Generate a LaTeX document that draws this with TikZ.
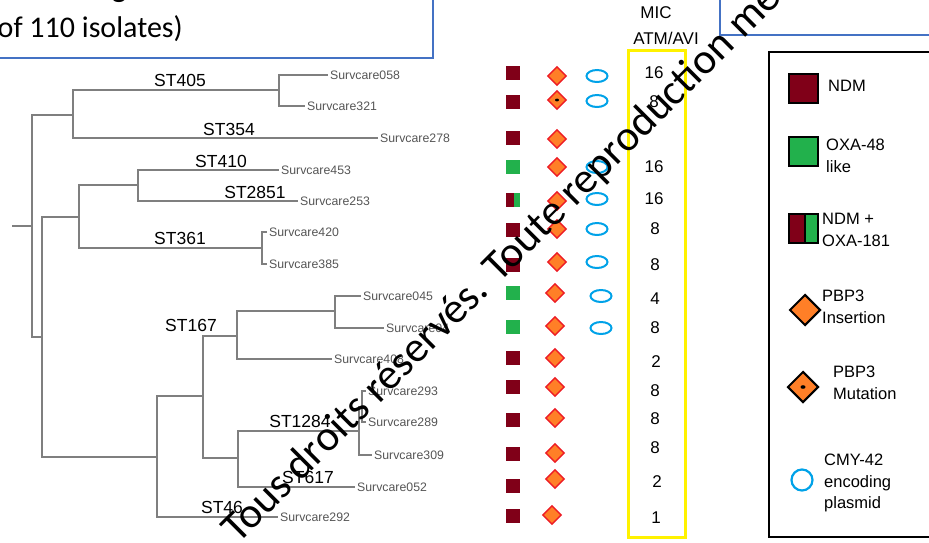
\documentclass[tikz,border=0pt]{standalone}
\usepackage{fontspec}
\setmainfont{Liberation Sans}
\newfontfamily\calibri{Carlito}
\usetikzlibrary{positioning, shapes.geometric, calc}

\definecolor{ndmred}{HTML}{800018}
\definecolor{oxagreen}{HTML}{22B14C}
\definecolor{pbporange}{HTML}{FF7F27}
\definecolor{pbpred}{HTML}{ED1C24}
\definecolor{cmyblue}{HTML}{00A2E8}
\definecolor{frameblue}{HTML}{4472C4}
\definecolor{micyellow}{HTML}{FFF200}
\definecolor{branchgray}{HTML}{7F7F7F}
\definecolor{leafgray}{HTML}{555555}

\begin{document}
\begin{tikzpicture}[
    x=1pt, y=-1pt,
    branch/.style={draw=branchgray, line width=1.3pt},
    leaf/.style={anchor=west, inner xsep=2pt, inner ysep=0pt, text=leafgray,
        font=\fontsize{12.3}{14}\selectfont},
    stlabel/.style={inner sep=0pt, font=\fontsize{17.5}{20}\selectfont},
    ndm/.style={rectangle, fill=ndmred, minimum size=14pt, inner sep=0pt},
    oxa/.style={ndm, fill=oxagreen},
    ndmoxa/.style={ndm, path picture={\fill[oxagreen] ([xshift=1pt]path picture bounding box.north)
        rectangle (path picture bounding box.south east);}},
    ins/.style={diamond, fill=pbporange, draw=pbpred, line width=1.4pt,
        minimum size=19pt, inner sep=0pt},
    mut/.style={ins, path picture={\fill[black] (path picture bounding box.center) ellipse (2pt and 1.4pt);}},
    cmy/.style={ellipse, draw=cmyblue, line width=2pt, minimum width=21pt,
        minimum height=12pt, inner sep=0pt},
    mic/.style={inner sep=0pt, font=\fontsize{17}{20}\selectfont},
    keybox/.style={rectangle, fill=#1, draw=black, line width=2pt,
        minimum width=29pt, minimum height=29pt, inner sep=0pt},
    keydia/.style={diamond, fill=pbporange, draw=black, line width=2pt,
        minimum size=31pt, inner sep=0pt},
    keytext/.style={anchor=west, align=left, inner sep=0pt,
        font=\fontsize{16.5}{21.5}\selectfont},
]
\useasboundingbox (0,0) rectangle (929,542);
\clip (0,0) rectangle (929,542);

% ---- Title boxes (cut by the frame) ----
\draw[frameblue, line width=1.5pt] (-20,-20) rectangle (433,58);
\node[anchor=base east, inner sep=0pt, font=\calibri\bfseries\fontsize{30}{36}\selectfont]
    (title) at (150,-3) {human origin};
\node[anchor=base east, inner sep=0pt, font=\calibri\fontsize{30}{36}\selectfont]
    (subtitle) at (183,37) {(of 110 isolates)};
\draw[frameblue, line width=1.5pt] (720,-20) rectangle (950,35);

% ---- Tree: internal nodes ----
\coordinate (root) at (12,226);
\coordinate (n1) at (32,226);
\coordinate (nA) at (73,115);
\coordinate (n405) at (279,90);
\coordinate (nB) at (42,337);
\coordinate (nC) at (79,217);
\coordinate (n410) at (138,185);
\coordinate (n361) at (262,248);
\coordinate (nD) at (157,457);
\coordinate (n167) at (203,396);
\coordinate (nE) at (237,336);
\coordinate (nG) at (335,311);
\coordinate (nF) at (238,458);
\coordinate (n1284) at (359,431);
\coordinate (nH) at (362,407);

% ---- Tree: isolates ----
\node[leaf] (s058) at (328,75) {Survcare058};
\node[leaf] (s321) at (305,106) {Survcare321};
\node[leaf] (s278) at (378,138) {Survcare278};
\node[leaf] (s453) at (279,170) {Survcare453};
\node[leaf] (s253) at (298,201) {Survcare253};
\node[leaf] (s420) at (267,232) {Survcare420};
\node[leaf] (s385) at (267,264) {Survcare385};
\node[leaf] (s045) at (361,296) {Survcare045};
\node[leaf] (s04x) at (384,328) {Survcare04};
\node[leaf] (s408) at (332,359) {Survcare408};
\node[leaf] (s293) at (366,391) {Survcare293};
\node[leaf] (s289) at (366,422) {Survcare289};
\node[leaf] (s309) at (372,455) {Survcare309};
\node[leaf] (s052) at (355,487) {Survcare052};
\node[leaf] (s292) at (278,517) {Survcare292};

% ---- Tree: branches ----
\draw[branch] (root) -- (n1);
\draw[branch] (n1) |- (nA);
\draw[branch] (n1) |- (nB);
\draw[branch] (nA) |- (n405);
\draw[branch] (nA) |- (s278.west);
\draw[branch] (n405) |- (s058.west);
\draw[branch] (n405) |- (s321.west);
\draw[branch] (nB) |- (nC);
\draw[branch] (nB) |- (nD);
\draw[branch] (nC) |- (n410);
\draw[branch] (nC) |- (n361);
\draw[branch] (n410) |- (s453.west);
\draw[branch] (n410) |- (s253.west);
\draw[branch] (n361) |- (s420.west);
\draw[branch] (n361) |- (s385.west);
\draw[branch] (nD) |- (n167);
\draw[branch] (nD) |- (s292.west);
\draw[branch] (n167) |- (nE);
\draw[branch] (n167) |- (nF);
\draw[branch] (nE) |- (nG);
\draw[branch] (nE) |- (s408.west);
\draw[branch] (nG) |- (s045.west);
\draw[branch] (nG) |- (s04x.west);
\draw[branch] (nF) |- (n1284);
\draw[branch] (nF) |- (s052.west);
\draw[branch] (n1284) |- (nH);
\draw[branch] (n1284) |- (s309.west);
\draw[branch] (nH) |- (s293.west);
\draw[branch] (nH) |- (s289.west);

% ---- Sequence types ----
\node[stlabel] (st405) at (180,80) {ST405};
\node[stlabel] (st354) at (229,129) {ST354};
\node[stlabel] (st410) at (221,161) {ST410};
\node[stlabel] (st2851) at (255,192) {ST2851};
\node[stlabel] (st361) at (180,238) {ST361};
\node[stlabel] (st167) at (191,325) {ST167};
\node[stlabel] (st1284) at (300,421) {ST1284};
\node[stlabel] (st617) at (308,477) {ST617};
\node[stlabel] (st46) at (222,507) {ST46};

% ---- Carbapenemase column ----
\node[ndm] (c1) at (513,73) {};
\node[ndm] (c2) at (513,102) {};
\node[ndm] (c3) at (513,138) {};
\node[oxa] (c4) at (513,167) {};
\node[ndmoxa] (c5) at (513,200) {};
\node[ndm] (c6) at (513,230) {};
\node[ndm] (c7) at (513,265) {};
\node[oxa] (c8) at (513,293) {};
\node[oxa] (c9) at (513,327) {};
\node[ndm] (c10) at (513,358) {};
\node[ndm] (c11) at (513,387) {};
\node[ndm] (c12) at (513,420) {};
\node[ndm] (c13) at (513,454) {};
\node[ndm] (c14) at (513,486) {};
\node[ndm] (c15) at (513,516) {};

% ---- PBP3 column ----
\node[ins] (p1) at (557,76) {};
\node[mut] (p2) at (557,100) {};
\node[ins] (p3) at (557,139) {};
\node[ins] (p4) at (557,167) {};
\node[ins] (p5) at (557,201) {};
\node[ins] (p6) at (557,229) {};
\node[ins] (p7) at (557,262) {};
\node[ins] (p8) at (555,293) {};
\node[ins] (p9) at (555,326) {};
\node[ins] (p10) at (555,358) {};
\node[ins] (p11) at (555,387) {};
\node[ins] (p12) at (555,418) {};
\node[ins] (p13) at (555,453) {};
\node[ins] (p14) at (555,479) {};
\node[ins] (p15) at (552,515) {};

% ---- CMY-42 column ----
\node[cmy] (e1) at (597,76) {};
\node[cmy] (e2) at (597,101) {};
\node[cmy] (e4) at (597,167) {};
\node[cmy] (e5) at (597,199) {};
\node[cmy] (e6) at (597,229) {};
\node[cmy] (e7) at (597,262) {};
\node[cmy] (e8) at (601,296) {};
\node[cmy] (e9) at (601,328) {};

% ---- MIC column ----
\node[mic] (mich1) at (656,13) {MIC};
\node[mic] (mich2) at (666,38) {ATM/AVI};
\draw[micyellow, line width=3pt] (628,50) rectangle (685,537);
\node[mic] (m1) at (654,73) {16};
\node[mic] (m2) at (654,102) {8};
\node[mic] (m4) at (654,167) {16};
\node[mic] (m5) at (654,199) {16};
\node[mic] (m6) at (655,229) {8};
\node[mic] (m7) at (655,265) {8};
\node[mic] (m8) at (655,299) {4};
\node[mic] (m9) at (655,328) {8};
\node[mic] (m10) at (656,362) {2};
\node[mic] (m11) at (655,391) {8};
\node[mic] (m12) at (655,419) {8};
\node[mic] (m13) at (655,448) {8};
\node[mic] (m14) at (657,482) {2};
\node[mic] (m15) at (656,518) {1};

% ---- Legend ----
\draw[black, line width=2pt] (769,52) rectangle (950,537);
\node[keybox=ndmred] (kndm) at (803,88) {};
\node[keytext] (tndm) at (828,86) {NDM};
\node[keybox=oxagreen] (koxa) at (803,151) {};
\node[keytext] (toxa) at (826,156) {OXA-48\\like};
\node[keybox=ndmred, path picture={
    \fill[oxagreen] ([xshift=2pt]path picture bounding box.north) rectangle (path picture bounding box.south east);
    \draw[line width=1.5pt] ([xshift=2pt]path picture bounding box.north) -- ([xshift=2pt]path picture bounding box.south);}]
    (kboth) at (803,228) {};
\node[keytext] (tboth) at (822,230) {NDM +\\OXA-181};
\node[keydia] (kins) at (805,310) {};
\node[keytext] (tins) at (822,307) {PBP3\\Insertion};
\node[keydia, path picture={\fill[black] (path picture bounding box.center) ellipse (2.5pt and 1.8pt);}]
    (kmut) at (803,387) {};
\node[keytext] (tmut) at (833,383) {PBP3\\Mutation};
\node[circle, draw=cmyblue, line width=2.2pt, minimum size=21pt, inner sep=0pt] (kcmy) at (802,480) {};
\node[keytext] (tcmy) at (824,483) {CMY-42\\encoding\\plasmid};

% ---- Watermark ----
\node[anchor=base west, rotate=45, inner sep=0pt, font=\calibri\fontsize{43}{47}\selectfont]
    (mark) at (238,545) {Tous droits réservés. Toute reproduction même};

\end{tikzpicture}
\end{document}
